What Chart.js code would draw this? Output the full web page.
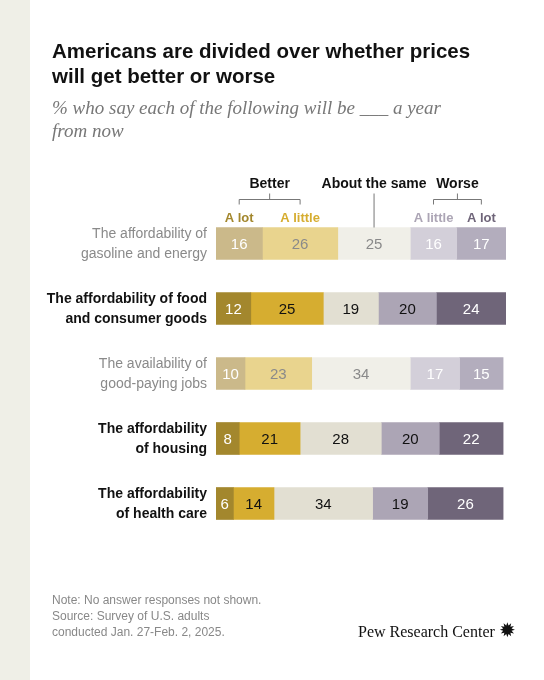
<!DOCTYPE html>
<html><head><meta charset="utf-8">
<script src="https://cdn.jsdelivr.net/npm/chart.js@4"></script>
<style>
body{margin:0;background:#fff;font-family:"Liberation Sans",Arial,sans-serif;}
#wrap{position:relative;width:544px;height:680px;overflow:hidden;}
#strip{position:absolute;left:0;top:0;width:30px;height:680px;background:#efefe7;}
canvas{position:absolute;left:0;top:0;}
.t{position:absolute;white-space:nowrap;}
</style></head><body>
<div id="wrap">
<div id="strip"></div>
<canvas id="c" width="544" height="680"></canvas>
<div class="t" style="left:52px;top:38px;font-size:20.5px;font-weight:bold;line-height:25px;color:#111">Americans are divided over whether prices<br>will get better or worse</div>
<div class="t" style="left:52px;top:96px;font-family:'Liberation Serif',serif;font-style:italic;font-size:19px;line-height:23px;color:#777">% who say each of the following will be ___ a year<br>from now</div>
<div class="t" style="left:52px;top:592px;font-size:12px;line-height:16px;color:#888">Note: No answer responses not shown.<br>Source: Survey of U.S. adults<br>conducted Jan. 27-Feb. 2, 2025.</div>
<div class="t" style="left:358px;top:618px;font-family:'Liberation Serif',serif;font-size:16px;color:#111">Pew Research Center <span style="font-size:20px">&#10041;</span></div>
</div>
<script>
const categories = [
  ["The affordability of", "gasoline and energy"],
  ["The affordability of food", "and consumer goods"],
  ["The availability of", "good-paying jobs"],
  ["The affordability", "of housing"],
  ["The affordability", "of health care"]
];
const faded = [true, false, true, false, false];
const seriesNames = ["Better a lot", "Better a little", "About the same", "Worse a little", "Worse a lot"];
const betterLot = [16, 12, 10, 8, 6];
const betterLittle = [26, 25, 23, 21, 14];
const same = [25, 19, 34, 28, 34];
const worseLittle = [16, 20, 17, 20, 19];
const worseLot = [17, 24, 15, 22, 26];

const strongColors = ["#a3872d", "#d6ad30", "#e2dfd2", "#aca5b5", "#6f6579"];
const fadedColors = ["#cbb98a", "#e9d48e", "#f0efe8", "#d3cfd9", "#b3adbd"];
const strongText = ["#fff", "#111", "#111", "#111", "#fff"];
const fadedText = ["#fff", "#8a8a8a", "#8a8a8a", "#fff", "#fff"];

const values = [betterLot, betterLittle, same, worseLittle, worseLot];
const datasets = values.map((v, i) => ({
  label: seriesNames[i],
  data: v,
  backgroundColor: v.map((_, r) => faded[r] ? fadedColors[i] : strongColors[i]),
  barThickness: 32,
  borderWidth: 0
}));

const labelPlugin = {
  id: "labels",
  afterDatasetsDraw(chart) {
    const ctx = chart.ctx;
    ctx.save();
    ctx.textAlign = "center";
    ctx.textBaseline = "middle";
    ctx.font = "15px 'Liberation Sans', Arial, sans-serif";
    chart.data.datasets.forEach((ds, i) => {
      chart.getDatasetMeta(i).data.forEach((bar, r) => {
        ctx.fillStyle = faded[r] ? fadedText[i] : strongText[i];
        ctx.fillText(ds.data[r], (bar.x + bar.base) / 2, bar.y + 1);
      });
    });
    // category labels
    const y = chart.scales.y;
    ctx.textAlign = "right";
    categories.forEach((lines, r) => {
      const py = y.getPixelForValue(r);
      ctx.fillStyle = faded[r] ? "#8a8a8a" : "#111";
      ctx.font = (faded[r] ? "" : "bold ") + "14px 'Liberation Sans', Arial, sans-serif";
      ctx.fillText(lines[0], chart.chartArea.left - 9, py - 9);
      ctx.fillText(lines[1], chart.chartArea.left - 9, py + 11);
    });
    // header
    const x = chart.scales.x;
    const top = y.getPixelForValue(0) - 16;
    const px = v => x.getPixelForValue(v);
    const b1 = px(betterLot[0] / 2), b2 = px(betterLot[0] + betterLittle[0] / 2);
    const s0 = betterLot[0] + betterLittle[0];
    const sm = px(s0 + same[0] / 2);
    const w0 = s0 + same[0];
    const w1 = px(w0 + worseLittle[0] / 2), w2 = px(w0 + worseLittle[0] + worseLot[0] / 2);
    ctx.font = "bold 13px 'Liberation Sans', Arial, sans-serif";
    ctx.textAlign = "center";
    ctx.textBaseline = "alphabetic";
    ctx.fillStyle = "#a3872d"; ctx.fillText("A lot", b1, top - 6);
    ctx.fillStyle = "#d6ad30"; ctx.fillText("A little", b2, top - 6);
    ctx.fillStyle = "#aca5b5"; ctx.fillText("A little", w1, top - 6);
    ctx.fillStyle = "#6f6579"; ctx.fillText("A lot", w2, top - 6);
    ctx.fillStyle = "#111";
    ctx.font = "bold 14px 'Liberation Sans', Arial, sans-serif";
    ctx.fillText("Better", (b1 + b2) / 2, top - 40);
    ctx.fillText("About the same", sm, top - 40);
    ctx.fillText("Worse", (w1 + w2) / 2, top - 40);
    ctx.strokeStyle = "#777"; ctx.lineWidth = 1;
    ctx.beginPath();
    [[b1, b2], [w1, w2]].forEach(([a, b]) => {
      ctx.moveTo(a, top - 23); ctx.lineTo(a, top - 28); ctx.lineTo(b, top - 28); ctx.lineTo(b, top - 23);
      ctx.moveTo((a + b) / 2, top - 28); ctx.lineTo((a + b) / 2, top - 34);
    });
    ctx.moveTo(sm, top - 34); ctx.lineTo(sm, top);
    ctx.stroke();
    ctx.restore();
  }
};

new Chart(document.getElementById("c"), {
  type: "bar",
  data: { labels: categories.map(c => c.join(" ")), datasets },
  options: {
    indexAxis: "y",
    responsive: false,
    animation: false,
    layout: { padding: { left: 216, right: 38, top: 211, bottom: 144 } },
    plugins: { legend: { display: false }, tooltip: { enabled: false } },
    scales: {
      x: { stacked: true, min: 0, max: 100, display: false },
      y: { stacked: true, display: false }
    }
  },
  plugins: [labelPlugin]
});
</script>
</body></html>
